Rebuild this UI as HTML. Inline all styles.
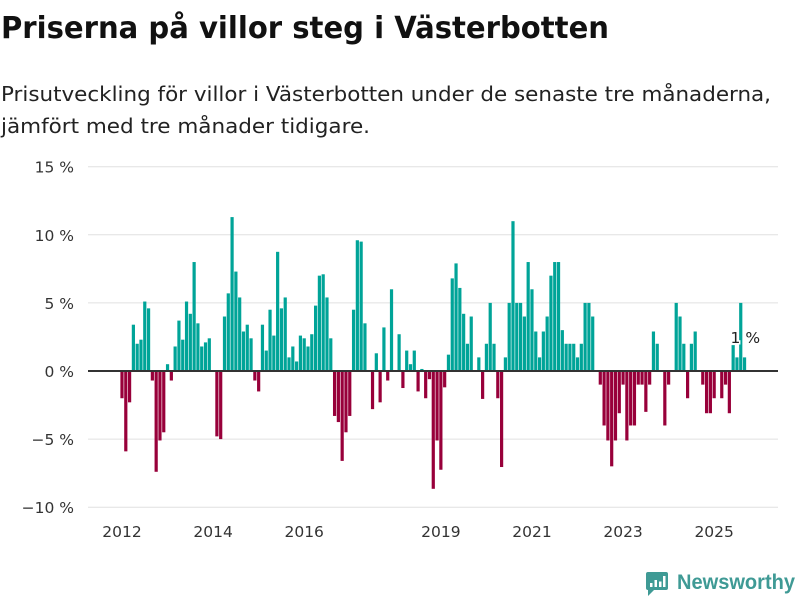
<!DOCTYPE html>
<html><head><meta charset="utf-8">
<style>
body{margin:0;width:800px;height:600px;background:#fff;font-family:"DejaVu Sans","Liberation Sans",sans-serif;overflow:hidden;position:relative}
svg{position:absolute;left:0;top:0}
</style></head><body>
<svg width="800" height="150">
  <text x="1" y="38" font-size="30" font-weight="bold" fill="#111" textLength="608" lengthAdjust="spacingAndGlyphs">Priserna på villor steg i Västerbotten</text>
  <text x="1" y="101" font-size="20" fill="#222" textLength="770" lengthAdjust="spacingAndGlyphs">Prisutveckling för villor i Västerbotten under de senaste tre månaderna,</text>
  <text x="1" y="133" font-size="20" fill="#222" textLength="369" lengthAdjust="spacingAndGlyphs">jämfört med tre månader tidigare.</text>
</svg>
<svg id="chart" width="800" height="600"></svg>
<script>
const startYear = 2012;
const values = [
-2.0,-5.9,-2.3,3.4,2.0,2.3,5.1,4.6,-0.7,-7.4,-5.1,-4.5,
0.5,-0.7,1.8,3.7,2.3,5.1,4.2,8.0,3.5,1.8,2.1,2.4,
0,-4.8,-5.0,4.0,5.7,11.3,7.3,5.4,2.9,3.4,2.4,-0.7,
-1.5,3.4,1.5,4.5,2.6,8.75,4.6,5.4,1.0,1.8,0.7,2.6,
2.4,1.8,2.7,4.8,7.0,7.1,5.4,2.4,-3.3,-3.75,-6.6,-4.5,
-3.3,4.5,9.6,9.5,3.5,0,-2.8,1.3,-2.3,3.2,-0.7,6.0,
0,2.7,-1.25,1.5,0.5,1.5,-1.5,0.15,-2.0,-0.6,-8.65,-5.1,
-7.25,-1.2,1.2,6.8,7.9,6.1,4.2,2.0,4.0,0,1.0,-2.05,
2.0,5.0,2.0,-2.0,-7.05,1.0,5.0,11.0,5.0,5.0,4.0,8.0,
6.0,2.9,1.0,2.9,4.0,7.0,8.0,8.0,3.0,2.0,2.0,2.0,
1.0,2.0,5.0,5.0,4.0,0,-1.0,-4.0,-5.1,-7.0,-5.1,-3.1,
-1.0,-5.1,-4.0,-4.0,-1.0,-1.0,-3.0,-1.0,2.9,2.0,0,-4.0,
-1.0,0,5.0,4.0,2.0,-2.0,2.0,2.9,0,-1.0,-3.1,-3.1,
-2.0,0,-2.0,-1.0,-3.1,1.9,1.0,5.0,1.0
];
const yTicks = [15,10,5,0,-5,-10];
const yTickLabels = ["15 %","10 %","5 %","0 %","\u22125 %","\u221210 %"];
const xTickYears = [2012,2014,2016,2019,2021,2023,2025];
const annotationText = "1 %";

const NS="http://www.w3.org/2000/svg";
const svg=document.getElementById('chart');
const y0=371, pxPer=13.62;
const yScale=v=>y0-v*pxPer;
const step=3.796, x0=122;
const xScale=i=>x0+i*step;
function mk(t,a){const e=document.createElementNS(NS,t);for(const k in a)e.setAttribute(k,a[k]);svg.appendChild(e);return e;}

yTicks.forEach((t,k)=>{
  if(t!==0){
    const g=mk('line',{x1:88,x2:778,y1:yScale(t),y2:yScale(t),stroke:'#e0e0e0','stroke-width':1});
    
    
  }
  const tx=mk('text',{x:74,y:yScale(t)+6,'text-anchor':'end','font-size':15.5,fill:'#333'});
  tx.textContent=yTickLabels[k];
  
  
});
values.forEach((v,i)=>{
  if(v===0)return;
  const y=v>0?yScale(v):y0;
  const r=mk('rect',{x:xScale(i)-1.6,y:y,width:3.2,height:Math.abs(v)*pxPer,fill:v>0?'#00a498':'#98003a'});
  
  
});
const zl=mk('line',{x1:88,x2:778,y1:y0,y2:y0,stroke:'#333','stroke-width':2});


xTickYears.forEach(yr=>{
  const i=(yr-startYear)*12;
  const t=mk('text',{x:xScale(i),y:537,'text-anchor':'middle','font-size':15.5,fill:'#333'});
  t.textContent=yr;
  
  
});
const last=values.length-1;
const an=mk('text',{x:xScale(last)-14,y:yScale(values[last]+1.05),'font-size':15.5,fill:'#222',stroke:'#fff','stroke-width':3,'paint-order':'stroke'});
an.textContent=annotationText;


</script>
<svg width="800" height="600" style="pointer-events:none">
  <path d="M646 572 h20 a2 2 0 0 1 2 2 v14 a2 2 0 0 1 -2 2 h-12 l-6 6 v-6 a2 2 0 0 1 -2 -2 v-14 a2 2 0 0 1 2 -2z" fill="#3f9a95"/>
  <rect x="650" y="583" width="2.5" height="4" fill="#fff"/>
  <rect x="654.5" y="580" width="2.5" height="7" fill="#fff"/>
  <rect x="659" y="581.5" width="2.5" height="5.5" fill="#fff"/>
  <rect x="663" y="576" width="2.5" height="11" fill="#fff"/>
  <text x="677" y="589" font-size="21" font-weight="bold" fill="#3f9a95" textLength="118" lengthAdjust="spacingAndGlyphs" font-family="Liberation Sans, sans-serif">Newsworthy</text>
</svg>
</body></html>
